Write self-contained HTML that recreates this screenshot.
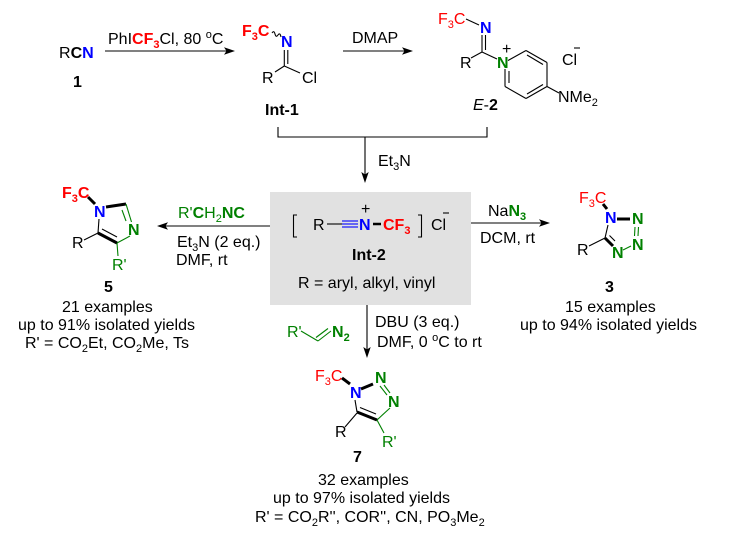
<!DOCTYPE html>
<html>
<head>
<meta charset="utf-8">
<style>
  html,body{margin:0;padding:0;background:#fff;}
  svg{display:block;}
  text{font-family:"Liberation Sans", Arial, sans-serif;font-size:16px;fill:#000;}
  .b{font-weight:bold;}
  .r{fill:#ff0000;}
  .bl{fill:#0000ff;}
  .g{fill:#008000;}
  .ln{stroke:#000;stroke-width:1.1;fill:none;}
  .lg{stroke:#008000;stroke-width:1.1;fill:none;}
  .lb{stroke:#0000ff;stroke-width:1.1;fill:none;}
  .th{stroke:#000;stroke-width:3;fill:none;}
</style>
</head>
<body>
<svg width="733" height="543" viewBox="0 0 733 543" xmlns="http://www.w3.org/2000/svg">
  <rect x="0" y="0" width="733" height="543" fill="#fff"/>

  <!-- ===== Top row ===== -->
  <!-- RCN -->
  <text x="59" y="58">R<tspan class="b">C</tspan><tspan class="b bl">N</tspan></text>
  <text x="73" y="87" class="b">1</text>

  <!-- Arrow 1 -->
  <line x1="105" y1="51" x2="228" y2="51" class="ln"/>
  <polygon points="235,51 224,47.3 226.5,51 224,54.7" fill="#000"/>
  <text x="108" y="44">PhI<tspan class="b r">CF</tspan><tspan class="b r" font-size="11" dy="4">3</tspan><tspan dy="-4">Cl, 80 </tspan><tspan font-size="11" dy="-6">o</tspan><tspan dy="6">C</tspan></text>

  <!-- Int-1 -->
  <text x="242" y="36" class="b r">F<tspan font-size="11" dy="4">3</tspan><tspan dy="-4">C</tspan></text>
  <path d="M272,33 q2,-3 3,1 q1,4 3,1 q2,-3 3,2" class="ln"/>
  <text x="281" y="47" class="b bl">N</text>
  <line x1="284.3" y1="50" x2="284.3" y2="66" class="ln"/>
  <line x1="287.8" y1="50" x2="287.8" y2="64" class="ln"/>
  <line x1="284.3" y1="66" x2="275" y2="72" class="ln"/>
  <line x1="284.3" y1="66" x2="300" y2="73" class="ln"/>
  <text x="262" y="83">R</text>
  <text x="302" y="83">Cl</text>
  <text x="265" y="115" class="b">Int-1</text>

  <!-- Arrow 2 -->
  <line x1="343" y1="51" x2="406" y2="51" class="ln"/>
  <polygon points="413,51 402,47.3 404.5,51 402,54.7" fill="#000"/>
  <text x="352" y="43">DMAP</text>

  <!-- E-2 -->
  <text x="438" y="24" class="r">F<tspan font-size="11" dy="4">3</tspan><tspan dy="-4">C</tspan></text>
  <line x1="466" y1="19" x2="479" y2="25" class="ln"/>
  <text x="480" y="33" class="b bl">N</text>
  <line x1="482" y1="35" x2="482" y2="52" class="ln"/>
  <line x1="485.5" y1="35" x2="485.5" y2="50" class="ln"/>
  <line x1="482" y1="52" x2="471" y2="58" class="ln"/>
  <line x1="482" y1="52" x2="497" y2="59" class="ln"/>
  <text x="460" y="68">R</text>
  <text x="497" y="68" class="b g">N</text>
  <text x="502" y="54" font-size="12">+</text>
  <!-- pyridinium ring -->
  <line x1="508" y1="60.5" x2="526" y2="50.5" class="ln"/>
  <line x1="526" y1="50.5" x2="547" y2="62.5" class="ln"/>
  <line x1="527" y1="55" x2="543" y2="64.5" class="ln"/>
  <line x1="547" y1="62.5" x2="547" y2="86.5" class="ln"/>
  <line x1="547" y1="86.5" x2="526" y2="98.5" class="ln"/>
  <line x1="543" y1="84.5" x2="527" y2="94" class="ln"/>
  <line x1="526" y1="98.5" x2="505" y2="86.5" class="ln"/>
  <line x1="505" y1="86.5" x2="505" y2="69" class="ln"/>
  <line x1="509" y1="83" x2="509" y2="71" class="ln"/>
  <line x1="547" y1="86.5" x2="559" y2="93" class="ln"/>
  <text x="558" y="102">NMe<tspan font-size="11" dy="4">2</tspan></text>
  <text x="562" y="65">Cl</text>
  <line x1="574" y1="48" x2="580" y2="48" class="ln"/>
  <text x="473" y="110"><tspan font-style="italic">E</tspan>-<tspan class="b">2</tspan></text>

  <!-- Bracket + Et3N arrow -->
  <path d="M278,127 V137 H487 V127" class="ln"/>
  <line x1="365" y1="137" x2="365" y2="176" class="ln"/>
  <polygon points="365,183 361.3,172 365,174.5 368.7,172" fill="#000"/>
  <text x="378" y="166">Et<tspan font-size="11" dy="4">3</tspan><tspan dy="-4">N</tspan></text>

  <!-- ===== Int-2 box ===== -->
  <rect x="270" y="192" width="201" height="113" fill="#e1e1e1"/>
  <path d="M297,215 H293.5 V237 H297" class="ln"/>
  <path d="M418,215 H421.5 V237 H418" class="ln"/>
  <text x="313" y="230">R</text>
  <line x1="327" y1="224" x2="342" y2="224" class="ln"/>
  <line x1="342" y1="221" x2="358" y2="221" class="lb"/>
  <line x1="342" y1="224" x2="358" y2="224" class="lb"/>
  <line x1="342" y1="227" x2="358" y2="227" class="lb"/>
  <text x="359" y="230" class="b bl">N</text>
  <text x="361" y="214" font-size="11">+</text>
  <line x1="373" y1="224" x2="381" y2="224" stroke="#000" stroke-width="2.5"/>
  <text x="383" y="230" class="b r">CF<tspan font-size="11" dy="4">3</tspan></text>
  <text x="431" y="230">Cl</text>
  <line x1="443" y1="213" x2="449" y2="213" class="ln"/>
  <text x="352" y="260" class="b">Int-2</text>
  <text x="298" y="288">R = aryl, alkyl, vinyl</text>

  <!-- ===== Left arrow ===== -->
  <line x1="270" y1="226" x2="164" y2="226" class="ln"/>
  <polygon points="157,226 168,222.3 165.5,226 168,229.7" fill="#000"/>
  <text x="178" y="218" class="g">R'<tspan class="b">C</tspan>H<tspan font-size="11" dy="4">2</tspan><tspan class="b" dy="-4">NC</tspan></text>
  <text x="177" y="247">Et<tspan font-size="11" dy="4">3</tspan><tspan dy="-4">N (2 eq.)</tspan></text>
  <text x="176" y="265">DMF, rt</text>

  <!-- Imidazole 5 -->
  <text x="62" y="198" class="b r">F<tspan font-size="11" dy="4">3</tspan><tspan dy="-4">C</tspan></text>
  <line x1="88" y1="197" x2="95" y2="204" class="th"/>
  <text x="94" y="217" class="b bl">N</text>
  <line x1="106" y1="207" x2="126" y2="204" class="th"/>
  <line x1="126" y1="204" x2="131.5" y2="222" class="lg"/>
  <line x1="122" y1="210" x2="126" y2="221" class="lg"/>
  <text x="128" y="235" class="b g">N</text>
  <line x1="130" y1="236" x2="117" y2="243" class="lg"/>
  <line x1="117" y1="243" x2="98" y2="233" class="th"/>
  <line x1="102" y1="229" x2="117" y2="237" class="ln"/>
  <line x1="98" y1="233" x2="99" y2="219" class="ln"/>
  <line x1="84" y1="240" x2="98" y2="233" class="ln"/>
  <text x="72" y="248">R</text>
  <line x1="117" y1="243" x2="118" y2="256" class="lg"/>
  <text x="112" y="270" class="g">R'</text>
  <text x="104" y="292" class="b">5</text>
  <text x="62" y="312">21 examples</text>
  <text x="18" y="330">up to 91% isolated yields</text>
  <text x="25" y="348">R' = CO<tspan font-size="11" dy="4">2</tspan><tspan dy="-4">Et, CO</tspan><tspan font-size="11" dy="4">2</tspan><tspan dy="-4">Me, Ts</tspan></text>

  <!-- ===== Right arrow ===== -->
  <line x1="471" y1="223" x2="543" y2="223" class="ln"/>
  <polygon points="550,223 539,219.3 541.5,223 539,226.7" fill="#000"/>
  <text x="488" y="216">Na<tspan class="b g">N</tspan><tspan class="b g" font-size="11" dy="4">3</tspan></text>
  <text x="480" y="243">DCM, rt</text>

  <!-- Tetrazole 3 -->
  <text x="579" y="203" class="r">F<tspan font-size="11" dy="4">3</tspan><tspan dy="-4">C</tspan></text>
  <line x1="603" y1="204" x2="607" y2="209" class="th"/>
  <text x="605" y="223" class="b bl">N</text>
  <line x1="617" y1="219" x2="630" y2="219" class="th"/>
  <text x="632" y="224" class="b g">N</text>
  <line x1="635" y1="227" x2="634.5" y2="236" class="lg"/>
  <line x1="638.5" y1="227" x2="638" y2="236" class="lg"/>
  <text x="632" y="250" class="b g">N</text>
  <line x1="631" y1="246" x2="623" y2="250" class="lg"/>
  <text x="612" y="258" class="b g">N</text>
  <line x1="605" y1="238" x2="608" y2="225" class="ln"/>
  <line x1="605" y1="238" x2="613" y2="246" class="th"/>
  <line x1="609.5" y1="235.5" x2="615" y2="241" class="ln"/>
  <line x1="589" y1="246" x2="605" y2="238" class="ln"/>
  <text x="577" y="255">R</text>
  <text x="605" y="292" class="b">3</text>
  <text x="565" y="312">15 examples</text>
  <text x="520" y="330">up to 94% isolated yields</text>

  <!-- ===== Bottom arrow ===== -->
  <line x1="367" y1="305" x2="367" y2="351" class="ln"/>
  <polygon points="367,358 363.3,347 367,349.5 370.7,347" fill="#000"/>
  <text x="375" y="327">DBU (3 eq.)</text>
  <text x="377" y="347">DMF, 0 <tspan font-size="11" dy="-6">o</tspan><tspan dy="6">C to rt</tspan></text>

  <!-- Diazo -->
  <text x="287" y="337" class="g">R'</text>
  <line x1="301" y1="331" x2="318" y2="341" class="lg"/>
  <line x1="318" y1="341" x2="331" y2="331" class="lg"/>
  <line x1="316" y1="337.5" x2="328" y2="328.5" class="lg"/>
  <text x="332" y="337" class="b g">N<tspan font-size="11" dy="4">2</tspan></text>

  <!-- Triazole 7 -->
  <text x="315" y="381" class="r">F<tspan font-size="11" dy="4">3</tspan><tspan dy="-4">C</tspan></text>
  <line x1="342" y1="378" x2="350" y2="384" class="th"/>
  <text x="350" y="398" class="b bl">N</text>
  <line x1="361" y1="389" x2="373" y2="384" class="th"/>
  <text x="375" y="383" class="b g">N</text>
  <line x1="380" y1="386" x2="387" y2="395" class="lg"/>
  <line x1="384" y1="385" x2="390" y2="393" class="lg"/>
  <text x="388" y="407" class="b g">N</text>
  <line x1="390" y1="408" x2="377" y2="420" class="lg"/>
  <line x1="377" y1="420" x2="357" y2="412" class="th"/>
  <line x1="360" y1="407.5" x2="376" y2="414" class="ln"/>
  <line x1="357" y1="412" x2="355" y2="400" class="ln"/>
  <line x1="345" y1="427" x2="357" y2="413" class="ln"/>
  <text x="335" y="437">R</text>
  <line x1="377" y1="420" x2="384" y2="433" class="lg"/>
  <text x="382" y="447" class="g">R'</text>
  <text x="353" y="462" class="b">7</text>
  <text x="318" y="485">32 examples</text>
  <text x="273" y="503">up to 97% isolated yields</text>
  <text x="255" y="522">R' = CO<tspan font-size="11" dy="4">2</tspan><tspan dy="-4">R'', COR'', CN, PO</tspan><tspan font-size="11" dy="4">3</tspan><tspan dy="-4">Me</tspan><tspan font-size="11" dy="4">2</tspan></text>
</svg>
</body>
</html>
